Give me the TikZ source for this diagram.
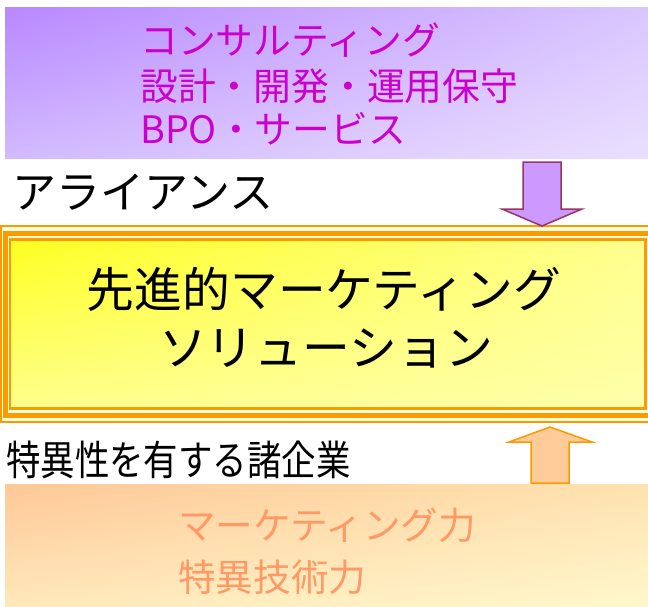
\documentclass[tikz,border=0pt]{standalone}
\usepackage{fontspec}
\usetikzlibrary{shadings}
\newfontfamily\jp{Noto Sans CJK JP}
\definecolor{purpUL}{HTML}{B888FF}
\definecolor{purpUR}{HTML}{D9C6FF}
\definecolor{purpLL}{HTML}{D2BAFF}
\definecolor{purpLR}{HTML}{EADFFF}
\definecolor{yelUL}{HTML}{FFFF22}
\definecolor{yelUR}{HTML}{FFFF90}
\definecolor{yelLL}{HTML}{FFFF8C}
\definecolor{yelLR}{HTML}{FFFFAA}
\definecolor{orUL}{HTML}{FFC898}
\definecolor{orUR}{HTML}{FFE2B0}
\definecolor{orLL}{HTML}{FFE8BA}
\definecolor{orLR}{HTML}{FFF8CC}
\definecolor{frameor}{HTML}{FF9900}
\definecolor{gapyel}{HTML}{FFFFDD}
\definecolor{magtext}{HTML}{CC00CC}
\definecolor{saltext}{HTML}{FF9966}
\definecolor{arrpurp}{HTML}{CC99FF}
\definecolor{arrpurpline}{HTML}{993366}
\definecolor{arror}{HTML}{FFCC99}
\begin{document}
\begin{tikzpicture}[x=1pt,y=-1pt,
  panel/.style={draw=none,inner sep=0pt,anchor=north west,shade},
  lbl/.style={inner sep=0pt,anchor=base west,font=\jp},
  ctr/.style={inner sep=0pt,anchor=base,font=\jp},
  downarrow/.style={fill=arrpurp,draw=arrpurpline,line width=1.5pt,line join=miter},
  uparrow/.style={fill=arror,draw=frameor,line width=1.5pt,line join=miter}]
\useasboundingbox (0,0) rectangle (648,606);
% top panel
\node[panel,upper left=purpUL,upper right=purpUR,lower left=purpLL,lower right=purpLR,
  minimum width=643pt,minimum height=151pt] (top) at (5,7) {};
\node[lbl,text=magtext,font=\jp\fontsize{37.8}{37.8}\selectfont] (t1) at (140,54) {コンサルティング};
\node[lbl,text=magtext,font=\jp\fontsize{37.8}{37.8}\selectfont] (t2) at (140,100) {設計・開発・運用保守};
\node[lbl,text=magtext,font=\jp\fontsize{37.8}{37.8}\selectfont] (t3) at (140,143) {BPO・サービス};
% alliance label
\node[lbl,font=\jp\fontsize{44}{44}\selectfont] (alliance) at (12,208) {アライアンス};
% main framed box
\draw[frameor,line width=2pt,fill=gapyel] (0.8,226) rectangle (660,422);
\draw[frameor,line width=5pt] (5,233) rectangle (655,415);
\node[panel,upper left=yelUL,upper right=yelUR,lower left=yelLL,lower right=yelLR,
  minimum width=635pt,minimum height=168.5pt] (main) at (10,239.5) {};
\draw[frameor,line width=2.5pt] (main.north west) rectangle (main.south east);
\node[ctr,font=\jp\fontsize{47.8}{47.8}\selectfont] (m1) at (324,307) {先進的マーケティング};
\node[ctr,font=\jp\fontsize{47.8}{47.8}\selectfont] (m2) at (326,365) {ソリューション};
% arrows
\draw[downarrow] (523,162) -- (561,162) -- (561,209) -- (582,209) -- (542,226) -- (502,209) -- (523,209) -- cycle;
% bottom panel
\node[panel,upper left=orUL,upper right=orUR,lower left=orLL,lower right=orLR,
  minimum width=643pt,minimum height=122pt] (bottom) at (5,484) {};
\draw[uparrow] (550,427) -- (592,442) -- (569,442) -- (569,483) -- (531,483) -- (531,442) -- (509,442) -- cycle;
\node[lbl,font=\jp\fontsize{41}{41}\selectfont] (firms) at (6,475) {\scalebox{0.84}[1]{特異性を有する諸企業}};
\node[lbl,text=saltext,font=\jp\fontsize{37.6}{37.6}\selectfont] (b1) at (178,539) {マーケティング力};
\node[lbl,text=saltext,font=\jp\fontsize{37.6}{37.6}\selectfont] (b2) at (178,591) {特異技術力};
\end{tikzpicture}
\end{document}
